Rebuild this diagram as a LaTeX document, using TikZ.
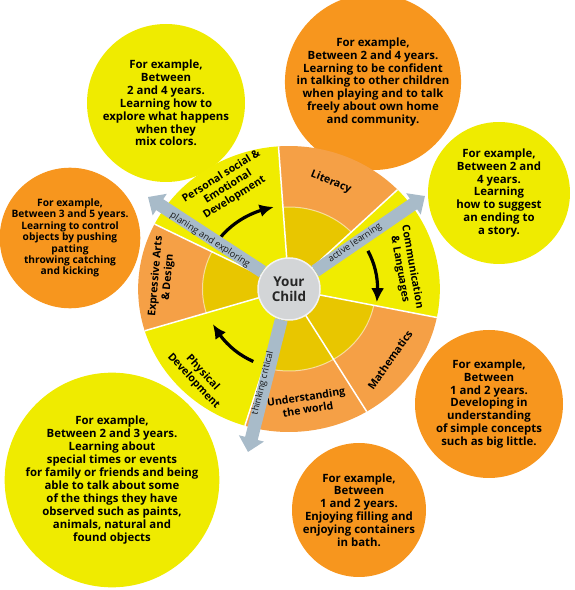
\documentclass[tikz,border=0pt]{standalone}
\usepackage{fontspec}
\setmainfont{Open Sans}
\usetikzlibrary{arrows.meta,bending}

\definecolor{wheelyellow}{HTML}{F0EC00}
\definecolor{wheelorange}{HTML}{F5A046}
\definecolor{innergold}{HTML}{E8C600}
\definecolor{bubbleyellow}{HTML}{EFEB00}
\definecolor{bubbleorange}{HTML}{F7961E}
\definecolor{pathgray}{HTML}{A8BBC9}
\definecolor{childgray}{HTML}{D3D5D7}

\begin{document}
\begin{tikzpicture}[
  x=1pt,
  y=1pt,
  bubble/.style={circle, inner sep=0pt, align=center, text=black, font=\bfseries\fontsize{11.4}{12.9}\selectfont},
  ybubble/.style={bubble, fill=bubbleyellow},
  obubble/.style={bubble, fill=bubbleorange},
  seglabel/.style={align=center, inner sep=0pt, text=black, font=\bfseries\fontsize{10.6}{12.4}\selectfont},
  pathlabel/.style={inner sep=0pt, text=black!90, font=\fontsize{9.2}{10}\selectfont},
  pathway/.style={pathgray, line width=13pt, -{Triangle[length=14pt, width=25pt]}},
  turn/.style={black, line width=3.2pt, -{Latex[length=14pt, width=13pt, bend]}},
  sepline/.style={white, line width=1.5pt},
  ringline/.style={white, opacity=0.55, line width=1pt},
  childdisc/.style={circle, fill=childgray, draw=white!70!childgray, line width=1.5pt, minimum size=62, inner sep=0pt, align=center, text=black!85, font=\bfseries\fontsize{13.5}{15.5}\selectfont}
]
\useasboundingbox (0,0) rectangle (574,590);

% example bubbles
\node[ybubble, minimum size=158] (exColours) at (166,487) {For example,\\Between\\2 and 4 years.\\Learning how to\\explore what happens\\when they\\mix colors.};
\node[obubble, minimum size=162] (exTalking) at (373,508) {For example,\\Between 2 and 4 years.\\Learning to be confident\\in talking to other children\\when playing and to talk\\freely about own home\\and community.};
\node[ybubble, minimum size=142] (exStory) at (499,397) {For example,\\Between 2 and\\4 years.\\Learning\\how to suggest\\an ending to\\a story.};
\node[obubble, minimum size=130, font=\bfseries\fontsize{10.2}{11.4}\selectfont] (exObjects) at (70,352) {For example,\\Between 3 and 5 years.\\Learning to control\\objects by pushing\\patting\\throwing catching\\and kicking};
\node[obubble, minimum size=148] (exConcepts) at (489,186) {For example,\\Between\\1 and 2 years.\\Developing in\\understanding\\of simple concepts\\such as big little.};
\node[obubble, minimum size=134] (exBath) at (359,80) {For example,\\Between\\1 and 2 years.\\Enjoying filling and\\enjoying containers\\in bath.};
\node[ybubble, minimum size=200] (exEvents) at (112,110) {For example,\\Between 2 and 3 years.\\Learning about\\special times or events\\for family or friends and being\\able to talk about some\\of the things they have\\observed such as paints,\\animals, natural and\\found objects};

% the wheel
\coordinate (hub) at (289,301);
\begin{scope}[shift={(hub)}, xscale=1.055]
  \fill[wheelyellow] (0,0) -- (94:143) arc[start angle=94, end angle=153, radius=143] -- cycle;
  \fill[wheelorange] (0,0) -- (44:143) arc[start angle=44, end angle=94, radius=143] -- cycle;
  \fill[innergold] (0,0) -- (44:82) arc[start angle=44, end angle=94, radius=82] -- cycle;
  \fill[wheelyellow] (0,0) -- (-11.5:143) arc[start angle=-11.5, end angle=44, radius=143] -- cycle;
  \fill[wheelorange] (0,0) -- (-59:143) arc[start angle=-59, end angle=-11.5, radius=143] -- cycle;
  \fill[innergold] (0,0) -- (-59:82) arc[start angle=-59, end angle=-11.5, radius=82] -- cycle;
  \fill[wheelorange] (0,0) -- (-107:143) arc[start angle=-107, end angle=-59, radius=143] -- cycle;
  \fill[innergold] (0,0) -- (-107:82) arc[start angle=-107, end angle=-59, radius=82] -- cycle;
  \fill[wheelyellow] (0,0) -- (197:143) arc[start angle=197, end angle=253, radius=143] -- cycle;
  \fill[wheelorange] (0,0) -- (153:143) arc[start angle=153, end angle=197, radius=143] -- cycle;
  \fill[innergold] (0,0) -- (153:82) arc[start angle=153, end angle=197, radius=82] -- cycle;

  \draw[ringline] (44:82) arc[start angle=44, end angle=94, radius=82];
  \draw[ringline] (-59:82) arc[start angle=-59, end angle=-11.5, radius=82];
  \draw[ringline] (-107:82) arc[start angle=-107, end angle=-59, radius=82];
  \draw[ringline] (153:82) arc[start angle=153, end angle=197, radius=82];

  \draw[sepline] (0,0) -- (94:143);
  \draw[sepline] (0,0) -- (44:143);
  \draw[sepline] (0,0) -- (-11.5:143);
  \draw[sepline] (0,0) -- (-59:143);
  \draw[sepline] (0,0) -- (-107:143);
  \draw[sepline] (0,0) -- (197:143);
  \draw[sepline] (0,0) -- (153:143);

  % turning arrows
  \draw[turn] (141:83) arc[start angle=141, end angle=100, radius=83];
  \draw[turn] (27:84) arc[start angle=27, end angle=-9, radius=84];
  \draw[turn] (-115:80) arc[start angle=-115, end angle=-154, radius=80];
\end{scope}

% area names
\node[seglabel, rotate=32] (psed) at (228,403) {Personal social \&\\Emotional\\Development};
\node[seglabel, rotate=-22] (literacy) at (331,408) {Literacy};
\node[seglabel, rotate=-80] (commLang) at (406,322) {Communication\\\& Languages};
\node[seglabel, rotate=55] (maths) at (390,230) {Mathematics};
\node[seglabel, rotate=9] (world) at (307,187) {Understanding\\the world};
\node[seglabel, rotate=-47] (physical) at (198,213) {Physical\\Development};
\node[seglabel, rotate=85] (arts) at (162,313) {Expressive Arts\\\& Design};

% centre and learning paths
\node[childdisc] (child) at (hub) {Your\\Child};
\coordinate (tipPlan) at (148,393);
\coordinate (tipActive) at (425,394);
\coordinate (tipThink) at (248,138);
\draw[pathway] (child) -- (tipPlan);
\draw[pathway] (child) -- (tipActive);
\draw[pathway] (child) -- (tipThink);
\node[pathlabel, rotate=-33] (planLbl) at (210,350) {planing and exploring};
\node[pathlabel, rotate=34] (activeLbl) at (355,347) {active learning};
\node[pathlabel, rotate=76] (thinkLbl) at (263,207) {thinking critical};
\end{tikzpicture}
\end{document}
